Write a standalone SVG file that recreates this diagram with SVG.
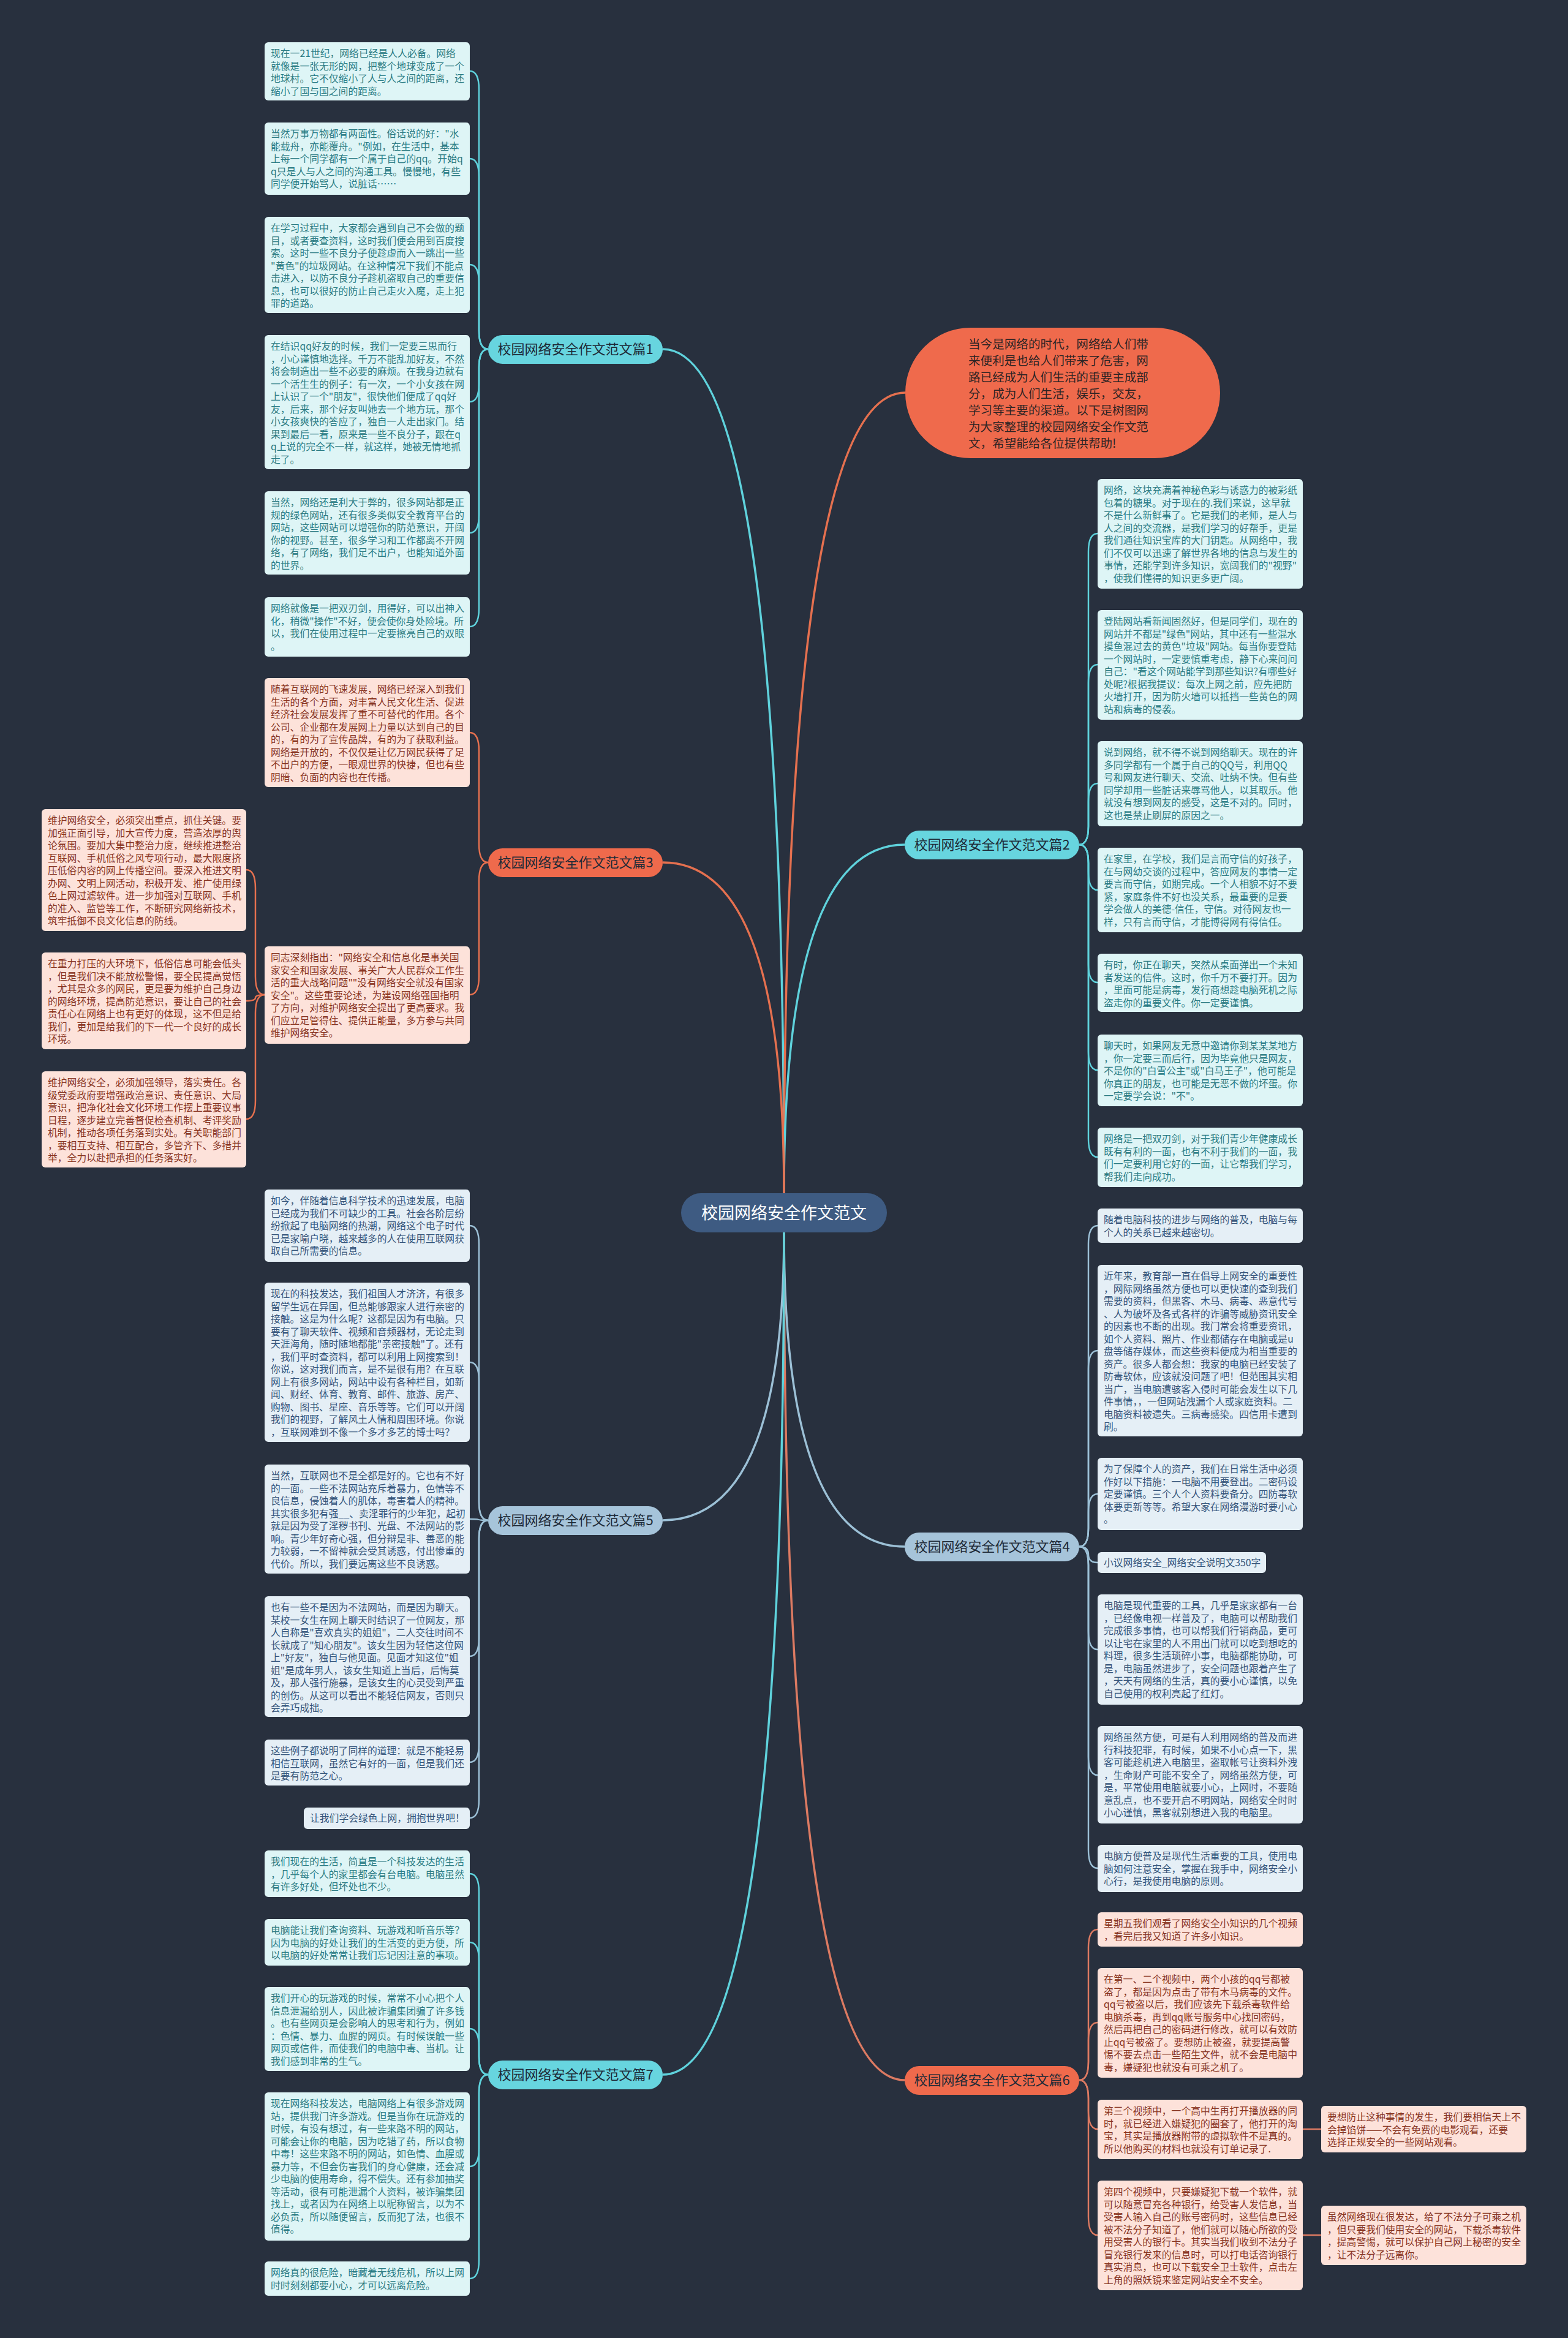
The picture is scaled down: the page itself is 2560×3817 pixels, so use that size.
<svg xmlns="http://www.w3.org/2000/svg" width="2560" height="3817" viewBox="0 0 2560 3817">
<style>
.lc{fill:#def5f6}.lp{fill:#fde2da}.lb{fill:#e5eff6}
text{font-family:"Noto Sans CJK SC","Liberation Sans",sans-serif}
.t{font-size:15.8px}
.tc{fill:#2a7b83}.tp{fill:#87331f}.tb{fill:#34547a}
.pl{font-size:22px;fill:#1e2a37;text-anchor:middle}
.c{fill:none;stroke-width:2.5}
.m{fill:none;stroke-width:3.5}
.sc{stroke:#5fd2dc}.so{stroke:#e5704f}.sb{stroke:#9cc0d6}.ss{stroke:#dc7a62}
</style>
<rect x="0" y="0" width="2560" height="3817" fill="#28303e"/>
<g id="connectors">
<!-- center to branches -->
<path class="m sc" d="M1280,1948 Q1280,570 1082,570"/>
<path class="m so" d="M1280,1948 Q1280,641 1478,641"/>
<path class="m sc" d="M1280,1948 Q1280,1379 1477,1379"/>
<path class="m so" d="M1280,1948 Q1280,1408 1082,1408"/>
<path class="m sb" d="M1280,2012 Q1280,2525 1477,2525"/>
<path class="m sb" d="M1280,2012 Q1280,2482 1082,2482"/>
<path class="m ss" d="M1280,2012 Q1280,3396 1477,3396"/>
<path class="m sc" d="M1280,2012 Q1280,3387 1082,3387"/>
<!-- branch 1 -->
<path class="c sc" d="M767,116 Q782,116 782,146 L782,540 Q782,570 797,570"/>
<path class="c sc" d="M767,259 Q782,259 782,289 L782,540 Q782,570 797,570"/>
<path class="c sc" d="M767,432 Q782,432 782,462 L782,540 Q782,570 797,570"/>
<path class="c sc" d="M767,656 Q782,656 782,626 L782,600 Q782,570 797,570"/>
<path class="c sc" d="M767,870 Q782,870 782,840 L782,600 Q782,570 797,570"/>
<path class="c sc" d="M767,1023 Q782,1023 782,993 L782,600 Q782,570 797,570"/>
<!-- branch 3 -->
<path class="c so" d="M767,1196 Q782,1196 782,1226 L782,1378 Q782,1408 797,1408"/>
<path class="c so" d="M767,1624 Q782,1624 782,1594 L782,1438 Q782,1408 797,1408"/>
<path class="c so" d="M402,1420 Q417,1420 417,1450 L417,1594 Q417,1624 432,1624"/>
<path class="c so" d="M402,1634 Q417,1634 417,1629 Q417,1624 432,1624"/>
<path class="c so" d="M402,1827 Q417,1827 417,1797 L417,1654 Q417,1624 432,1624"/>
<!-- branch 5 -->
<path class="c sb" d="M767,2001 Q782,2001 782,2031 L782,2452 Q782,2482 797,2482"/>
<path class="c sb" d="M767,2224 Q782,2224 782,2254 L782,2452 Q782,2482 797,2482"/>
<path class="c sb" d="M767,2480 Q782,2480 782,2481 Q782,2482 797,2482"/>
<path class="c sb" d="M767,2704 Q782,2704 782,2674 L782,2512 Q782,2482 797,2482"/>
<path class="c sb" d="M767,2877 Q782,2877 782,2847 L782,2512 Q782,2482 797,2482"/>
<path class="c sb" d="M767,2968 Q782,2968 782,2938 L782,2512 Q782,2482 797,2482"/>
<!-- branch 7 -->
<path class="c sc" d="M767,3059 Q782,3059 782,3089 L782,3357 Q782,3387 797,3387"/>
<path class="c sc" d="M767,3171 Q782,3171 782,3201 L782,3357 Q782,3387 797,3387"/>
<path class="c sc" d="M767,3312 Q782,3312 782,3342 L782,3357 Q782,3387 797,3387"/>
<path class="c sc" d="M767,3537 Q782,3537 782,3507 L782,3417 Q782,3387 797,3387"/>
<path class="c sc" d="M767,3720 Q782,3720 782,3690 L782,3417 Q782,3387 797,3387"/>
<!-- branch 2 -->
<path class="c sc" d="M1792,871 Q1777,871 1777,901 L1777,1349 Q1777,1379 1762,1379"/>
<path class="c sc" d="M1792,1085 Q1777,1085 1777,1115 L1777,1349 Q1777,1379 1762,1379"/>
<path class="c sc" d="M1792,1279 Q1777,1279 1777,1309 L1777,1349 Q1777,1379 1762,1379"/>
<path class="c sc" d="M1792,1453 Q1777,1453 1777,1423 L1777,1409 Q1777,1379 1762,1379"/>
<path class="c sc" d="M1792,1604 Q1777,1604 1777,1574 L1777,1409 Q1777,1379 1762,1379"/>
<path class="c sc" d="M1792,1747 Q1777,1747 1777,1717 L1777,1409 Q1777,1379 1762,1379"/>
<path class="c sc" d="M1792,1889 Q1777,1889 1777,1859 L1777,1409 Q1777,1379 1762,1379"/>
<!-- branch 4 -->
<path class="c sb" d="M1792,2001 Q1777,2001 1777,2031 L1777,2495 Q1777,2525 1762,2525"/>
<path class="c sb" d="M1792,2205 Q1777,2205 1777,2235 L1777,2495 Q1777,2525 1762,2525"/>
<path class="c sb" d="M1792,2439 Q1777,2439 1777,2469 L1777,2495 Q1777,2525 1762,2525"/>
<path class="c sb" d="M1792,2551 Q1777,2551 1777,2538 Q1777,2525 1762,2525"/>
<path class="c sb" d="M1792,2693 Q1777,2693 1777,2663 L1777,2555 Q1777,2525 1762,2525"/>
<path class="c sb" d="M1792,2898 Q1777,2898 1777,2868 L1777,2555 Q1777,2525 1762,2525"/>
<path class="c sb" d="M1792,3050 Q1777,3050 1777,3020 L1777,2555 Q1777,2525 1762,2525"/>
<!-- branch 6 -->
<path class="c ss" d="M1792,3150 Q1777,3150 1777,3180 L1777,3366 Q1777,3396 1762,3396"/>
<path class="c ss" d="M1792,3302 Q1777,3302 1777,3332 L1777,3366 Q1777,3396 1762,3396"/>
<path class="c ss" d="M1792,3476 Q1777,3476 1777,3446 L1777,3426 Q1777,3396 1762,3396"/>
<path class="c ss" d="M1792,3649 Q1777,3649 1777,3619 L1777,3426 Q1777,3396 1762,3396"/>
<path class="c ss" d="M2127,3476 L2157,3476"/>
<path class="c ss" d="M2127,3649 L2157,3649"/>
</g>

<g id="center">
<rect x="1112" y="1948" width="336" height="64" rx="32" fill="#3e5b82"/>
<text x="1280" y="1990" font-size="27" fill="#ffffff" text-anchor="middle">校园网络安全作文范文</text>
</g>

<g id="intro">
<rect x="1478" y="535" width="514" height="213" rx="106.5" fill="#ef6a4c"/>
<text font-size="19.6" fill="#2e2424">
<tspan x="1581" y="569">当今是网络的时代，网络给人们带</tspan>
<tspan x="1581" y="596">来便利是也给人们带来了危害，网</tspan>
<tspan x="1581" y="623">路已经成为人们生活的重要主成部</tspan>
<tspan x="1581" y="650">分，成为人们生活，娱乐，交友，</tspan>
<tspan x="1581" y="677">学习等主要的渠道。以下是树图网</tspan>
<tspan x="1581" y="704">为大家整理的校园网络安全作文范</tspan>
<tspan x="1581" y="731">文，希望能给各位提供帮助!</tspan>
</text>
</g>

<g id="b1"><rect x="797" y="547" width="285" height="47" rx="23.5" fill="#67d5df"/><text class="pl" x="939.5" y="578">校园网络安全作文范文篇1</text></g>
<g id="b3"><rect x="797" y="1385" width="285" height="47" rx="23.5" fill="#ef6a4c"/><text class="pl" x="939.5" y="1416">校园网络安全作文范文篇3</text></g>
<g id="b5"><rect x="797" y="2459" width="285" height="47" rx="23.5" fill="#a6c4da"/><text class="pl" x="939.5" y="2490">校园网络安全作文范文篇5</text></g>
<g id="b7"><rect x="797" y="3364" width="285" height="47" rx="23.5" fill="#67d5df"/><text class="pl" x="939.5" y="3395">校园网络安全作文范文篇7</text></g>
<g id="b2"><rect x="1477" y="1356" width="285" height="47" rx="23.5" fill="#67d5df"/><text class="pl" x="1619.5" y="1387">校园网络安全作文范文篇2</text></g>
<g id="b4"><rect x="1477" y="2502" width="285" height="47" rx="23.5" fill="#a6c4da"/><text class="pl" x="1619.5" y="2533">校园网络安全作文范文篇4</text></g>
<g id="b6"><rect x="1477" y="3373" width="285" height="47" rx="23.5" fill="#ef6a4c"/><text class="pl" x="1619.5" y="3404">校园网络安全作文范文篇6</text></g>

<!-- branch 1 leaves -->
<g id="b1a"><rect class="lc" x="432" y="69" width="335" height="95" rx="6"/><text class="t tc">
<tspan x="442" y="93">现在一21世纪，网络已经是人人必备。网络</tspan>
<tspan x="442" y="113.5">就像是一张无形的网，把整个地球变成了一个</tspan>
<tspan x="442" y="134">地球村。它不仅缩小了人与人之间的距离，还</tspan>
<tspan x="442" y="154.5">缩小了国与国之间的距离。</tspan></text></g>
<g id="b1b"><rect class="lc" x="432" y="200" width="335" height="118" rx="6"/><text class="t tc">
<tspan x="442" y="224">当然万事万物都有两面性。俗话说的好："水</tspan>
<tspan x="442" y="244.5">能载舟，亦能覆舟。"例如，在生活中，基本</tspan>
<tspan x="442" y="265">上每一个同学都有一个属于自己的qq。开始q</tspan>
<tspan x="442" y="285.5">q只是人与人之间的沟通工具。慢慢地，有些</tspan>
<tspan x="442" y="306">同学便开始骂人，说脏话……</tspan></text></g>
<g id="b1c"><rect class="lc" x="432" y="354" width="335" height="157" rx="6"/><text class="t tc">
<tspan x="442" y="378">在学习过程中，大家都会遇到自己不会做的题</tspan>
<tspan x="442" y="398.5">目，或者要查资料，这时我们便会用到百度搜</tspan>
<tspan x="442" y="419">索。这时一些不良分子便趁虚而入一跳出一些</tspan>
<tspan x="442" y="439.5">"黄色"的垃圾网站。在这种情况下我们不能点</tspan>
<tspan x="442" y="460">击进入，以防不良分子趁机盗取自己的重要信</tspan>
<tspan x="442" y="480.5">息，也可以很好的防止自己走火入魔，走上犯</tspan>
<tspan x="442" y="501">罪的道路。</tspan></text></g>
<g id="b1d"><rect class="lc" x="432" y="547" width="335" height="219" rx="6"/><text class="t tc">
<tspan x="442" y="571">在结识qq好友的时候，我们一定要三思而行</tspan>
<tspan x="442" y="591.5">，小心谨慎地选择。千万不能乱加好友，不然</tspan>
<tspan x="442" y="612">将会制造出一些不必要的麻烦。在我身边就有</tspan>
<tspan x="442" y="632.5">一个活生生的例子：有一次，一个小女孩在网</tspan>
<tspan x="442" y="653">上认识了一个"朋友"，很快他们便成了qq好</tspan>
<tspan x="442" y="673.5">友，后来，那个好友叫她去一个地方玩，那个</tspan>
<tspan x="442" y="694">小女孩爽快的答应了，独自一人走出家门。结</tspan>
<tspan x="442" y="714.5">果到最后一看，原来是一些不良分子，跟在q</tspan>
<tspan x="442" y="735">q上说的完全不一样，就这样，她被无情地抓</tspan>
<tspan x="442" y="755.5">走了。</tspan></text></g>
<g id="b1e"><rect class="lc" x="432" y="802" width="335" height="136" rx="6"/><text class="t tc">
<tspan x="442" y="826">当然，网络还是利大于弊的，很多网站都是正</tspan>
<tspan x="442" y="846.5">规的绿色网站，还有很多类似安全教育平台的</tspan>
<tspan x="442" y="867">网站，这些网站可以增强你的防范意识，开阔</tspan>
<tspan x="442" y="887.5">你的视野。甚至，很多学习和工作都离不开网</tspan>
<tspan x="442" y="908">络，有了网络，我们足不出户，也能知道外面</tspan>
<tspan x="442" y="928.5">的世界。</tspan></text></g>
<g id="b1f"><rect class="lc" x="432" y="975" width="335" height="97" rx="6"/><text class="t tc">
<tspan x="442" y="999">网络就像是一把双刃剑，用得好，可以出神入</tspan>
<tspan x="442" y="1019.5">化，稍微"操作"不好，便会使你身处险境。所</tspan>
<tspan x="442" y="1040">以，我们在使用过程中一定要擦亮自己的双眼</tspan>
<tspan x="442" y="1060.5">。</tspan></text></g>

<!-- branch 3 leaves -->
<g id="b3a"><rect class="lp" x="432" y="1107" width="335" height="178" rx="6"/><text class="t tp">
<tspan x="442" y="1131">随着互联网的飞速发展，网络已经深入到我们</tspan>
<tspan x="442" y="1151.5">生活的各个方面，对丰富人民文化生活、促进</tspan>
<tspan x="442" y="1172">经济社会发展发挥了重不可替代的作用。各个</tspan>
<tspan x="442" y="1192.5">公司、企业都在发展网上力量以达到自己的目</tspan>
<tspan x="442" y="1213">的，有的为了宣传品牌，有的为了获取利益。</tspan>
<tspan x="442" y="1233.5">网络是开放的，不仅仅是让亿万网民获得了足</tspan>
<tspan x="442" y="1254">不出户的方便，一眼观世界的快捷，但也有些</tspan>
<tspan x="442" y="1274.5">阴暗、负面的内容也在传播。</tspan></text></g>
<g id="b3b"><rect class="lp" x="432" y="1545" width="335" height="159" rx="6"/><text class="t tp">
<tspan x="442" y="1569">同志深刻指出："网络安全和信息化是事关国</tspan>
<tspan x="442" y="1589.5">家安全和国家发展、事关广大人民群众工作生</tspan>
<tspan x="442" y="1610">活的重大战略问题""没有网络安全就没有国家</tspan>
<tspan x="442" y="1630.5">安全"。这些重要论述，为建设网络强国指明</tspan>
<tspan x="442" y="1651">了方向，对维护网络安全提出了更高要求。我</tspan>
<tspan x="442" y="1671.5">们应立足管得住、提供正能量，多方参与共同</tspan>
<tspan x="442" y="1692">维护网络安全。</tspan></text></g>
<g id="f1"><rect class="lp" x="68" y="1321" width="334" height="199" rx="6"/><text class="t tp">
<tspan x="78" y="1345">维护网络安全，必须突出重点，抓住关键。要</tspan>
<tspan x="78" y="1365.5">加强正面引导，加大宣传力度，营造浓厚的舆</tspan>
<tspan x="78" y="1386">论氛围。要加大集中整治力度，继续推进整治</tspan>
<tspan x="78" y="1406.5">互联网、手机低俗之风专项行动，最大限度挤</tspan>
<tspan x="78" y="1427">压低俗内容的网上传播空间。要深入推进文明</tspan>
<tspan x="78" y="1447.5">办网、文明上网活动，积极开发、推广使用绿</tspan>
<tspan x="78" y="1468">色上网过滤软件。进一步加强对互联网、手机</tspan>
<tspan x="78" y="1488.5">的准入、监管等工作，不断研究网络新技术，</tspan>
<tspan x="78" y="1509">筑牢抵御不良文化信息的防线。</tspan></text></g>
<g id="f2"><rect class="lp" x="68" y="1555" width="334" height="158" rx="6"/><text class="t tp">
<tspan x="78" y="1579">在重力打压的大环境下，低俗信息可能会低头</tspan>
<tspan x="78" y="1599.5">，但是我们决不能放松警惕，要全民提高觉悟</tspan>
<tspan x="78" y="1620">，尤其是众多的网民，更是要为维护自己身边</tspan>
<tspan x="78" y="1640.5">的网络环境，提高防范意识，要让自己的社会</tspan>
<tspan x="78" y="1661">责任心在网络上也有更好的体现，这不但是给</tspan>
<tspan x="78" y="1681.5">我们，更加是给我们的下一代一个良好的成长</tspan>
<tspan x="78" y="1702">环境。</tspan></text></g>
<g id="f3"><rect class="lp" x="68" y="1749" width="334" height="157" rx="6"/><text class="t tp">
<tspan x="78" y="1773">维护网络安全，必须加强领导，落实责任。各</tspan>
<tspan x="78" y="1793.5">级党委政府要增强政治意识、责任意识、大局</tspan>
<tspan x="78" y="1814">意识，把净化社会文化环境工作摆上重要议事</tspan>
<tspan x="78" y="1834.5">日程，逐步建立完善督促检查机制、考评奖励</tspan>
<tspan x="78" y="1855">机制，推动各项任务落到实处。有关职能部门</tspan>
<tspan x="78" y="1875.5">，要相互支持、相互配合，多管齐下、多措并</tspan>
<tspan x="78" y="1896">举，全力以赴把承担的任务落实好。</tspan></text></g>

<!-- branch 5 leaves -->
<g id="b5a"><rect class="lb" x="432" y="1942" width="335" height="118" rx="6"/><text class="t tb">
<tspan x="442" y="1966">如今，伴随着信息科学技术的迅速发展，电脑</tspan>
<tspan x="442" y="1986.5">已经成为我们不可缺少的工具。社会各阶层纷</tspan>
<tspan x="442" y="2007">纷掀起了电脑网络的热潮，网络这个电子时代</tspan>
<tspan x="442" y="2027.5">已是家喻户晓，越来越多的人在使用互联网获</tspan>
<tspan x="442" y="2048">取自己所需要的信息。</tspan></text></g>
<g id="b5b"><rect class="lb" x="432" y="2094" width="335" height="260" rx="6"/><text class="t tb">
<tspan x="442" y="2118">现在的科技发达，我们祖国人才济济，有很多</tspan>
<tspan x="442" y="2138.5">留学生远在异国，但总能够跟家人进行亲密的</tspan>
<tspan x="442" y="2159">接触。这是为什么呢？这都是因为有电脑。只</tspan>
<tspan x="442" y="2179.5">要有了聊天软件、视频和音频器材，无论走到</tspan>
<tspan x="442" y="2200">天涯海角，随时随地都能"亲密接触"了。还有</tspan>
<tspan x="442" y="2220.5">，我们平时查资料，都可以利用上网搜索到！</tspan>
<tspan x="442" y="2241">你说，这对我们而言，是不是很有用？在互联</tspan>
<tspan x="442" y="2261.5">网上有很多网站，网站中设有各种栏目，如新</tspan>
<tspan x="442" y="2282">闻、财经、体育、教育、邮件、旅游、房产、</tspan>
<tspan x="442" y="2302.5">购物、图书、星座、音乐等等。它们可以开阔</tspan>
<tspan x="442" y="2323">我们的视野，了解风土人情和周围环境。你说</tspan>
<tspan x="442" y="2343.5">，互联网难到不像一个多才多艺的博士吗？</tspan></text></g>
<g id="b5c"><rect class="lb" x="432" y="2391" width="335" height="178" rx="6"/><text class="t tb">
<tspan x="442" y="2415">当然，互联网也不是全都是好的。它也有不好</tspan>
<tspan x="442" y="2435.5">的一面。一些不法网站充斥着暴力，色情等不</tspan>
<tspan x="442" y="2456">良信息，侵蚀着人的肌体，毒害着人的精神。</tspan>
<tspan x="442" y="2476.5">其实很多犯有强__、卖淫罪行的少年犯，起初</tspan>
<tspan x="442" y="2497">就是因为受了淫秽书刊、光盘、不法网站的影</tspan>
<tspan x="442" y="2517.5">响。青少年好奇心强，但分辩是非、善恶的能</tspan>
<tspan x="442" y="2538">力较弱，一不留神就会受其诱惑，付出惨重的</tspan>
<tspan x="442" y="2558.5">代价。所以，我们要远离这些不良诱惑。</tspan></text></g>
<g id="b5d"><rect class="lb" x="432" y="2606" width="335" height="197" rx="6"/><text class="t tb">
<tspan x="442" y="2630">也有一些不是因为不法网站，而是因为聊天。</tspan>
<tspan x="442" y="2650.5">某校一女生在网上聊天时结识了一位网友，那</tspan>
<tspan x="442" y="2671">人自称是"喜欢真实的姐姐"，二人交往时间不</tspan>
<tspan x="442" y="2691.5">长就成了"知心朋友"。该女生因为轻信这位网</tspan>
<tspan x="442" y="2712">上"好友"，独自与他见面。见面才知这位"姐</tspan>
<tspan x="442" y="2732.5">姐"是成年男人，该女生知道上当后，后悔莫</tspan>
<tspan x="442" y="2753">及，那人强行施暴，是该女生的心灵受到严重</tspan>
<tspan x="442" y="2773.5">的创伤。从这可以看出不能轻信网友，否则只</tspan>
<tspan x="442" y="2794">会弄巧成拙。</tspan></text></g>
<g id="b5e"><rect class="lb" x="432" y="2840" width="335" height="75" rx="6"/><text class="t tb">
<tspan x="442" y="2864">这些例子都说明了同样的道理：就是不能轻易</tspan>
<tspan x="442" y="2884.5">相信互联网，虽然它有好的一面，但是我们还</tspan>
<tspan x="442" y="2905">是要有防范之心。</tspan></text></g>
<g id="b5f"><rect class="lb" x="496" y="2951" width="271" height="35" rx="6"/><text class="t tb" x="506" y="2974">让我们学会绿色上网，拥抱世界吧！</text></g>

<!-- branch 7 leaves -->
<g id="b7a"><rect class="lc" x="432" y="3021" width="335" height="76" rx="6"/><text class="t tc">
<tspan x="442" y="3045">我们现在的生活，简直是一个科技发达的生活</tspan>
<tspan x="442" y="3065.5">，几乎每个人的家里都会有台电脑。电脑虽然</tspan>
<tspan x="442" y="3086">有许多好处，但坏处也不少。</tspan></text></g>
<g id="b7b"><rect class="lc" x="432" y="3133" width="335" height="76" rx="6"/><text class="t tc">
<tspan x="442" y="3157">电脑能让我们查询资料、玩游戏和听音乐等？</tspan>
<tspan x="442" y="3177.5">因为电脑的好处让我们的生活变的更方便，所</tspan>
<tspan x="442" y="3198">以电脑的好处常常让我们忘记因注意的事项。</tspan></text></g>
<g id="b7c"><rect class="lc" x="432" y="3244" width="335" height="137" rx="6"/><text class="t tc">
<tspan x="442" y="3268">我们开心的玩游戏的时候，常常不小心把个人</tspan>
<tspan x="442" y="3288.5">信息泄漏给别人，因此被诈骗集团骗了许多钱</tspan>
<tspan x="442" y="3309">。也有些网页是会影响人的思考和行为，例如</tspan>
<tspan x="442" y="3329.5">：色情、暴力、血腥的网页。有时候误触一些</tspan>
<tspan x="442" y="3350">网页或信件，而使我们的电脑中毒、当机。让</tspan>
<tspan x="442" y="3370.5">我们感到非常的生气。</tspan></text></g>
<g id="b7d"><rect class="lc" x="432" y="3416" width="335" height="242" rx="6"/><text class="t tc">
<tspan x="442" y="3440">现在网络科技发达，电脑网络上有很多游戏网</tspan>
<tspan x="442" y="3460.5">站，提供我门许多游戏。但是当你在玩游戏的</tspan>
<tspan x="442" y="3481">时候，有没有想过，有一些来路不明的网站，</tspan>
<tspan x="442" y="3501.5">可能会让你的电脑，因为吃错了药，所以食物</tspan>
<tspan x="442" y="3522">中毒！这些来路不明的网站，如色情、血腥或</tspan>
<tspan x="442" y="3542.5">暴力等，不但会伤害我们的身心健康，还会减</tspan>
<tspan x="442" y="3563">少电脑的使用寿命，得不偿失。还有参加抽奖</tspan>
<tspan x="442" y="3583.5">等活动，很有可能泄漏个人资料，被诈骗集团</tspan>
<tspan x="442" y="3604">找上，或者因为在网络上以昵称留言，以为不</tspan>
<tspan x="442" y="3624.5">必负责，所以随便留言，反而犯了法，也很不</tspan>
<tspan x="442" y="3645">值得。</tspan></text></g>
<g id="b7e"><rect class="lc" x="432" y="3692" width="335" height="56" rx="6"/><text class="t tc">
<tspan x="442" y="3716">网络真的很危险，暗藏着无线危机，所以上网</tspan>
<tspan x="442" y="3736.5">时时刻刻都要小心，才可以远离危险。</tspan></text></g>

<!-- branch 2 leaves -->
<g id="r2a"><rect class="lc" x="1792" y="782" width="335" height="179" rx="6"/><text class="t tc">
<tspan x="1802" y="806">网络，这块充满着神秘色彩与诱惑力的被彩纸</tspan>
<tspan x="1802" y="826.5">包着的糖果。对于现在的.我们来说，这早就</tspan>
<tspan x="1802" y="847">不是什么新鲜事了。它是我们的老师，是人与</tspan>
<tspan x="1802" y="867.5">人之间的交流器，是我们学习的好帮手，更是</tspan>
<tspan x="1802" y="888">我们通往知识宝库的大门钥匙。从网络中，我</tspan>
<tspan x="1802" y="908.5">们不仅可以迅速了解世界各地的信息与发生的</tspan>
<tspan x="1802" y="929">事情，还能学到许多知识，宽阔我们的"视野"</tspan>
<tspan x="1802" y="949.5">，使我们懂得的知识更多更广阔。</tspan></text></g>
<g id="r2b"><rect class="lc" x="1792" y="996" width="335" height="179" rx="6"/><text class="t tc">
<tspan x="1802" y="1020">登陆网站看新闻固然好，但是同学们，现在的</tspan>
<tspan x="1802" y="1040.5">网站并不都是"绿色"网站，其中还有一些混水</tspan>
<tspan x="1802" y="1061">摸鱼混过去的黄色"垃圾"网站。每当你要登陆</tspan>
<tspan x="1802" y="1081.5">一个网站时，一定要慎重考虑，静下心来问问</tspan>
<tspan x="1802" y="1102">自己："看这个网站能学到那些知识?有哪些好</tspan>
<tspan x="1802" y="1122.5">处呢?根据我提议：每次上网之前，应先把防</tspan>
<tspan x="1802" y="1143">火墙打开，因为防火墙可以抵挡一些黄色的网</tspan>
<tspan x="1802" y="1163.5">站和病毒的侵袭。</tspan></text></g>
<g id="r2c"><rect class="lc" x="1792" y="1210" width="335" height="139" rx="6"/><text class="t tc">
<tspan x="1802" y="1234">说到网络，就不得不说到网络聊天。现在的许</tspan>
<tspan x="1802" y="1254.5">多同学都有一个属于自己的QQ号，利用QQ</tspan>
<tspan x="1802" y="1275">号和网友进行聊天、交流、吐纳不快。但有些</tspan>
<tspan x="1802" y="1295.5">同学却用一些脏话来辱骂他人，以其取乐。他</tspan>
<tspan x="1802" y="1316">就没有想到网友的感受，这是不对的。同时，</tspan>
<tspan x="1802" y="1336.5">这也是禁止刷屏的原因之一。</tspan></text></g>
<g id="r2d"><rect class="lc" x="1792" y="1384" width="335" height="138" rx="6"/><text class="t tc">
<tspan x="1802" y="1408">在家里，在学校，我们是言而守信的好孩子，</tspan>
<tspan x="1802" y="1428.5">在与网幼交谈的过程中，答应网友的事情一定</tspan>
<tspan x="1802" y="1449">要言而守信，如期完成。一个人相貌不好不要</tspan>
<tspan x="1802" y="1469.5">紧，家庭条件不好也没关系，最重要的是要</tspan>
<tspan x="1802" y="1490">学会做人的美德-信任，守信。对待网友也一</tspan>
<tspan x="1802" y="1510.5">样，只有言而守信，才能博得网有得信任。</tspan></text></g>
<g id="r2e"><rect class="lc" x="1792" y="1557" width="335" height="95" rx="6"/><text class="t tc">
<tspan x="1802" y="1581">有时，你正在聊天，突然从桌面弹出一个未知</tspan>
<tspan x="1802" y="1601.5">者发送的信件。这时，你千万不要打开。因为</tspan>
<tspan x="1802" y="1622">，里面可能是病毒，发行商想趁电脑死机之际</tspan>
<tspan x="1802" y="1642.5">盗走你的重要文件。你一定要谨慎。</tspan></text></g>
<g id="r2f"><rect class="lc" x="1792" y="1689" width="335" height="117" rx="6"/><text class="t tc">
<tspan x="1802" y="1713">聊天时，如果网友无意中邀请你到某某某地方</tspan>
<tspan x="1802" y="1733.5">，你一定要三而后行，因为毕竟他只是网友，</tspan>
<tspan x="1802" y="1754">不是你的"白雪公主"或"白马王子"，他可能是</tspan>
<tspan x="1802" y="1774.5">你真正的朋友，也可能是无恶不做的坏蛋。你</tspan>
<tspan x="1802" y="1795">一定要学会说："不"。</tspan></text></g>
<g id="r2g"><rect class="lc" x="1792" y="1841" width="335" height="97" rx="6"/><text class="t tc">
<tspan x="1802" y="1865">网络是一把双刃剑，对于我们青少年健康成长</tspan>
<tspan x="1802" y="1885.5">既有有利的一面，也有不利于我们的一面，我</tspan>
<tspan x="1802" y="1906">们一定要利用它好的一面，让它帮我们学习，</tspan>
<tspan x="1802" y="1926.5">帮我们走向成功。</tspan></text></g>

<!-- branch 4 leaves -->
<g id="r4a"><rect class="lb" x="1792" y="1973" width="335" height="56" rx="6"/><text class="t tb">
<tspan x="1802" y="1997">随着电脑科技的进步与网络的普及，电脑与每</tspan>
<tspan x="1802" y="2017.5">个人的关系已越来越密切。</tspan></text></g>
<g id="r4b"><rect class="lb" x="1792" y="2065" width="335" height="280" rx="6"/><text class="t tb">
<tspan x="1802" y="2089">近年来，教育部一直在倡导上网安全的重要性</tspan>
<tspan x="1802" y="2109.5">，网际网络虽然方便也可以更快速的查到我们</tspan>
<tspan x="1802" y="2130">需要的资料，但黑客、木马、病毒、恶意代号</tspan>
<tspan x="1802" y="2150.5">、人为破坏及各式各样的诈骗等威胁资讯安全</tspan>
<tspan x="1802" y="2171">的因素也不断的出现。我门常会将重要资讯，</tspan>
<tspan x="1802" y="2191.5">如个人资料、照片、作业都储存在电脑或是u</tspan>
<tspan x="1802" y="2212">盘等储存媒体，而这些资料便成为相当重要的</tspan>
<tspan x="1802" y="2232.5">资产。很多人都会想：我家的电脑已经安装了</tspan>
<tspan x="1802" y="2253">防毒软体，应该就没问题了吧！但范围其实相</tspan>
<tspan x="1802" y="2273.5">当广，当电脑遭骇客入侵时可能会发生以下几</tspan>
<tspan x="1802" y="2294">件事情，，一但网站洩漏个人或家庭资料。二</tspan>
<tspan x="1802" y="2314.5">电脑资料被遗失。三病毒感染。四信用卡遭到</tspan>
<tspan x="1802" y="2335">刷。</tspan></text></g>
<g id="r4c"><rect class="lb" x="1792" y="2380" width="335" height="118" rx="6"/><text class="t tb">
<tspan x="1802" y="2404">为了保障个人的资产，我们在日常生活中必须</tspan>
<tspan x="1802" y="2424.5">作好以下措施：一电脑不用要登出。二密码设</tspan>
<tspan x="1802" y="2445">定要谨慎。三个人个人资料要备分。四防毒软</tspan>
<tspan x="1802" y="2465.5">体要更新等等。希望大家在网络漫游时要小心</tspan>
<tspan x="1802" y="2486">。</tspan></text></g>
<g id="r4d"><rect class="lb" x="1792" y="2534" width="275" height="34" rx="6"/><text class="t tb" x="1802" y="2557">小议网络安全_网络安全说明文350字</text></g>
<g id="r4e"><rect class="lb" x="1792" y="2603" width="335" height="180" rx="6"/><text class="t tb">
<tspan x="1802" y="2627">电脑是现代重要的工具，几乎是家家都有一台</tspan>
<tspan x="1802" y="2647.5">，已经像电视一样普及了，电脑可以帮助我们</tspan>
<tspan x="1802" y="2668">完成很多事情，也可以帮我们行销商品，更可</tspan>
<tspan x="1802" y="2688.5">以让宅在家里的人不用出门就可以吃到想吃的</tspan>
<tspan x="1802" y="2709">料理，很多生活琐碎小事，电脑都能协助，可</tspan>
<tspan x="1802" y="2729.5">是，电脑虽然进步了，安全问题也跟着产生了</tspan>
<tspan x="1802" y="2750">，天天有网络的生活，真的要小心谨慎，以免</tspan>
<tspan x="1802" y="2770.5">自己使用的权利亮起了红灯。</tspan></text></g>
<g id="r4f"><rect class="lb" x="1792" y="2818" width="335" height="159" rx="6"/><text class="t tb">
<tspan x="1802" y="2842">网络虽然方便，可是有人利用网络的普及而进</tspan>
<tspan x="1802" y="2862.5">行科技犯罪，有时候，如果不小心点一下，黑</tspan>
<tspan x="1802" y="2883">客可能趁机进入电脑里，盗取帐号让资料外洩</tspan>
<tspan x="1802" y="2903.5">，生命财产可能不安全了，网络虽然方便，可</tspan>
<tspan x="1802" y="2924">是，平常使用电脑就要小心，上网时，不要随</tspan>
<tspan x="1802" y="2944.5">意乱点，也不要开启不明网站，网络安全时时</tspan>
<tspan x="1802" y="2965">小心谨慎，黑客就别想进入我的电脑里。</tspan></text></g>
<g id="r4g"><rect class="lb" x="1792" y="3012" width="335" height="77" rx="6"/><text class="t tb">
<tspan x="1802" y="3036">电脑方便普及是现代生活重要的工具，使用电</tspan>
<tspan x="1802" y="3056.5">脑如何注意安全，掌握在我手中，网络安全小</tspan>
<tspan x="1802" y="3077">心行，是我使用电脑的原则。</tspan></text></g>

<!-- branch 6 leaves -->
<g id="r6a"><rect class="lp" x="1792" y="3122" width="335" height="56" rx="6"/><text class="t tp">
<tspan x="1802" y="3146">星期五我们观看了网络安全小知识的几个视频</tspan>
<tspan x="1802" y="3166.5">，看完后我又知道了许多小知识。</tspan></text></g>
<g id="r6b"><rect class="lp" x="1792" y="3213" width="335" height="179" rx="6"/><text class="t tp">
<tspan x="1802" y="3237">在第一、二个视频中，两个小孩的qq号都被</tspan>
<tspan x="1802" y="3257.5">盗了，都是因为点击了带有木马病毒的文件。</tspan>
<tspan x="1802" y="3278">qq号被盗以后，我们应该先下载杀毒软件给</tspan>
<tspan x="1802" y="3298.5">电脑杀毒，再到qq账号服务中心找回密码，</tspan>
<tspan x="1802" y="3319">然后再把自己的密码进行修改，就可以有效防</tspan>
<tspan x="1802" y="3339.5">止qq号被盗了。要想防止被盗，就要提高警</tspan>
<tspan x="1802" y="3360">惕不要去点击一些陌生文件，就不会是电脑中</tspan>
<tspan x="1802" y="3380.5">毒，嫌疑犯也就没有可乘之机了。</tspan></text></g>
<g id="r6c"><rect class="lp" x="1792" y="3428" width="335" height="97" rx="6"/><text class="t tp">
<tspan x="1802" y="3452">第三个视频中，一个高中生再打开播放器的同</tspan>
<tspan x="1802" y="3472.5">时，就已经进入嫌疑犯的圈套了，他打开的淘</tspan>
<tspan x="1802" y="3493">宝，其实是播放器附带的虚拟软件不是真的。</tspan>
<tspan x="1802" y="3513.5">所以他购买的材料也就没有订单记录了.</tspan></text></g>
<g id="r6d"><rect class="lp" x="1792" y="3560" width="335" height="179" rx="6"/><text class="t tp">
<tspan x="1802" y="3584">第四个视频中，只要嫌疑犯下载一个软件，就</tspan>
<tspan x="1802" y="3604.5">可以随意冒充各种银行，给受害人发信息，当</tspan>
<tspan x="1802" y="3625">受害人输入自己的账号密码时，这些信息已经</tspan>
<tspan x="1802" y="3645.5">被不法分子知道了，他们就可以随心所欲的受</tspan>
<tspan x="1802" y="3666">用受害人的银行卡。其实当我们收到不法分子</tspan>
<tspan x="1802" y="3686.5">冒充银行发来的信息时，可以打电话咨询银行</tspan>
<tspan x="1802" y="3707">真实消息，也可以下载安全卫士软件，点击左</tspan>
<tspan x="1802" y="3727.5">上角的照妖镜来鉴定网站安全不安全。</tspan></text></g>
<g id="fr1"><rect class="lp" x="2157" y="3438" width="335" height="76" rx="6"/><text class="t tp">
<tspan x="2167" y="3462">要想防止这种事情的发生，我们要相信天上不</tspan>
<tspan x="2167" y="3482.5">会掉馅饼——不会有免费的电影观看，还要</tspan>
<tspan x="2167" y="3503">选择正规安全的一些网站观看。</tspan></text></g>
<g id="fr2"><rect class="lp" x="2157" y="3601" width="335" height="97" rx="6"/><text class="t tp">
<tspan x="2167" y="3625">虽然网络现在很发达，给了不法分子可乘之机</tspan>
<tspan x="2167" y="3645.5">，但只要我们使用安全的网站，下载杀毒软件</tspan>
<tspan x="2167" y="3666">，提高警惕，就可以保护自己网上秘密的安全</tspan>
<tspan x="2167" y="3686.5">，让不法分子远离你。</tspan></text></g>
</svg>
